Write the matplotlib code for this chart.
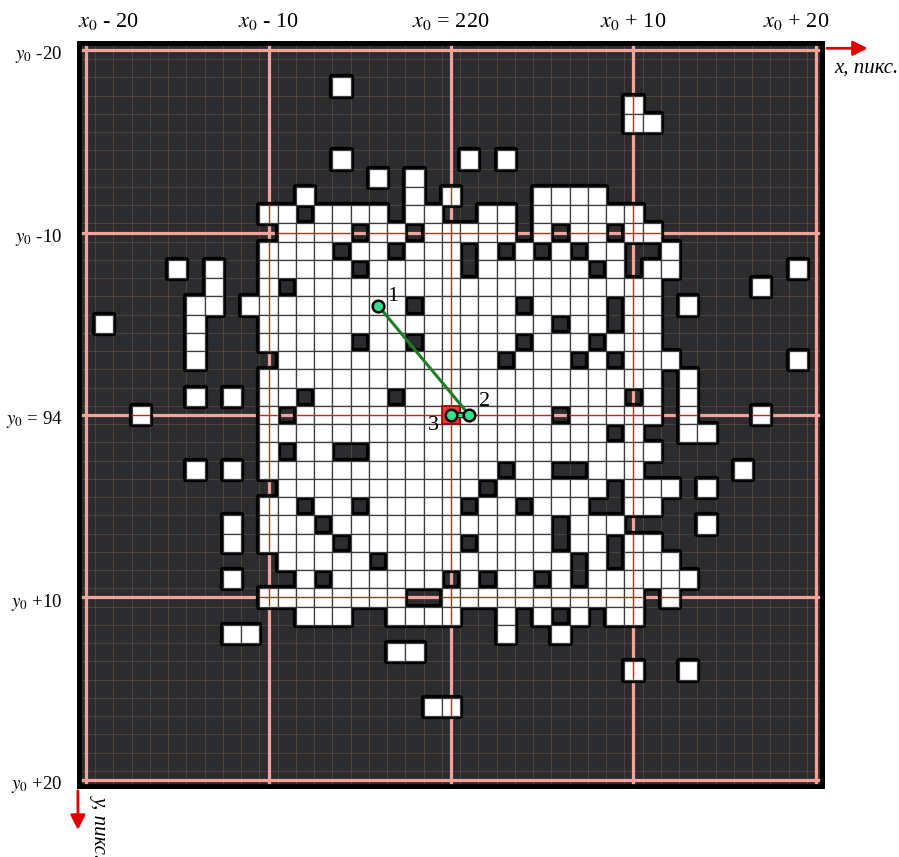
import matplotlib
matplotlib.use("Agg")
import matplotlib.pyplot as plt
import numpy as np
from matplotlib.patches import Rectangle
from matplotlib.path import Path
from matplotlib.transforms import Affine2D

# pixel offsets from (x0, y0); white pixels listed per row, rows y0-20 .. y0+20
rows = list(range(-20, 21))
white_cols = [
    [],                                                                      # -20
    [],                                                                      # -19
    [-6],                                                                    # -18
    [10],                                                                    # -17
    [10, 11],                                                                # -16
    [],                                                                      # -15
    [-6, 1, 3],                                                              # -14
    [-4, -2],                                                                # -13
    [-8, -2, 0, 5, 6, 7, 8],                                                 # -12
    [-10, -9, -7, -6, -5, -4, -2, -1, 2, 3, 5, 6, 7, 8, 9, 10],              # -11
    [-9, -8, -7, -6, -4, -3, -1, 0, 1, 2, 3, 5, 7, 8, 10, 11],               # -10
    [-10, -9, -8, -7, -5, -4, -2, -1, 0, 2, 4, 6, 8, 9, 12],                 # -9
    [-15, -13, -10, -9, -8, -7, -6, -4, -3, -2, -1, 0, 2, 3, 4, 5, 6, 7,
     9, 11, 12, 19],                                                         # -8
    [-13, -10, -8, -7, -6, -5, -4, -3, -2, -1, 0, 1, 2, 3, 4, 5, 6, 7, 8,
     9, 10, 11, 17],                                                         # -7
    [-14, -13, -11, -10, -9, -8, -7, -6, -5, -4, -3, -1, 0, 1, 2, 3, 5, 6,
     7, 8, 10, 11, 13],                                                      # -6
    [-19, -14, -10, -9, -8, -7, -6, -5, -4, -3, -2, -1, 0, 1, 2, 3, 4, 5,
     7, 8, 10, 11],                                                          # -5
    [-14, -10, -9, -8, -7, -6, -4, -3, -1, 0, 1, 2, 3, 5, 6, 7, 9, 10, 11],  # -4
    [-14, -9, -8, -7, -6, -5, -4, -3, -2, -1, 0, 1, 2, 4, 5, 6, 8, 10, 11,
     12, 19],                                                                # -3
    [-10, -9, -8, -7, -6, -5, -4, -3, -2, -1, 0, 1, 2, 3, 4, 5, 6, 7, 8, 9,
     10, 11, 13],                                                            # -2
    [-14, -12, -10, -9, -7, -6, -5, -4, -2, -1, 0, 1, 2, 3, 4, 5, 6, 7, 8,
     9, 11, 13],                                                             # -1
    [-17, -10, -8, -7, -6, -5, -4, -3, -2, -1, 0, 1, 2, 3, 4, 5, 7, 8, 9,
     10, 11, 13, 17],                                                        # 0
    [-10, -9, -8, -7, -6, -5, -4, -3, -2, -1, 0, 1, 2, 3, 4, 5, 6, 7, 8,
     10, 13, 14],                                                            # 1
    [-10, -8, -7, -4, -3, -2, -1, 0, 1, 2, 3, 4, 5, 6, 7, 8, 9, 10, 11],     # 2
    [-14, -12, -10, -9, -8, -7, -6, -5, -4, -3, -2, -1, 0, 1, 2, 4, 5, 8,
     9, 10, 16],                                                             # 3
    [-9, -8, -7, -6, -5, -4, -3, -2, -1, 0, 1, 3, 4, 5, 6, 7, 8, 10, 11,
     12, 14],                                                                # 4
    [-10, -9, -7, -6, -4, -3, -2, -1, 0, 2, 3, 5, 6, 7, 10, 11],             # 5
    [-12, -10, -9, -8, -6, -5, -4, -3, -2, -1, 0, 1, 2, 3, 4, 5, 7, 8, 9,
     14],                                                                    # 6
    [-12, -10, -9, -8, -7, -5, -4, -3, -2, -1, 0, 2, 3, 4, 5, 7, 8, 10, 11], # 7
    [-9, -8, -7, -6, -5, -3, -2, -1, 0, 1, 2, 3, 4, 5, 6, 8, 10, 11, 12],    # 8
    [-12, -8, -6, -5, -4, -3, -2, -1, 1, 3, 4, 6, 8, 9, 10, 11, 12, 13],     # 9
    [-10, -9, -8, -7, -6, -5, -4, -3, 0, 1, 2, 3, 4, 5, 6, 7, 8, 9, 10, 12], # 10
    [-8, -7, -6, -3, -2, -1, 0, 3, 5, 7, 9, 10],                             # 11
    [-12, -11, 3, 6],                                                        # 12
    [-3, -2],                                                                # 13
    [10, 13],                                                                # 14
    [],                                                                      # 15
    [-1, 0],                                                                 # 16
    [], [], [], [],                                                          # 17..20
]

major_offsets = [-20, -10, 0, 10, 20]
x_labels = [r"$x_0$ - 20", r"$x_0$ - 10", r"$x_0$ = 220", r"$x_0$ + 10", r"$x_0$ + 20"]
y_labels = [r"$y_0$ -20", r"$y_0$ -10", r"$y_0$ = 94", r"$y_0$ +10", r"$y_0$ +20"]

point_names = ["1", "2", "3"]
point_x = [-4, 1, 0]
point_y = [-6, 0, 0]
red_cell = (0, 0)

BG = "#2c2c30"
SALMON = "#f2a39a"
RED = "#d41f1f"

plt.rcParams.update({"font.family": "Liberation Serif", "mathtext.fontset": "stix",
                     "font.size": 13})

fig = plt.figure(figsize=(8.99, 8.57), dpi=100)
ax = fig.add_axes([77 / 899, 68 / 857, 748 / 899, 748 / 857])
ax.set_xlim(-20.5, 20.5)
ax.set_ylim(20.5, -20.5)
ax.set_facecolor(BG)
ax.set_xticks([])
ax.set_yticks([])
for s in ax.spines.values():
    s.set_visible(False)

# thin pixel grid on the background
for k in np.arange(-19.5, 20.0, 1.0):
    ax.axvline(k, color="#52433b", lw=0.7, zorder=1)
    ax.axhline(k, color="#52433b", lw=0.7, zorder=1)

# every-10 guide lines (under the pixels)
for v in major_offsets:
    ax.axvline(v, color=SALMON, lw=2.3, zorder=1.5)
    ax.axhline(v, color=SALMON, lw=2.3, zorder=1.5)

cells = [(c, r) for r, cols in zip(rows, white_cols) for c in cols]

for c, r in cells:
    ax.add_patch(Rectangle((c - 0.5, r - 0.5), 1, 1, fc="black", ec="black",
                           lw=4.5, joinstyle="round", zorder=2))
for c, r in cells:
    ax.add_patch(Rectangle((c - 0.5, r - 0.5), 1, 1, fc="white", ec="#3c3c3c",
                           lw=0.9, zorder=3))

# red guide lines drawn over the white pixels only
clip = Path.make_compound_path(*[
    Path.unit_rectangle().transformed(Affine2D().translate(c - 0.5, r - 0.5))
    for c, r in cells])
for v in major_offsets:
    for ln in (ax.axvline(v, color=RED, lw=1.0, zorder=4),
               ax.axhline(v, color=RED, lw=1.0, zorder=4)):
        ln.set_clip_path(clip, ax.transData)

ax.add_patch(Rectangle((red_cell[0] - 0.5, red_cell[1] - 0.5), 1, 1,
                       fc="#f03a3a", ec="#a00000", lw=1.2, zorder=5))

ax.plot(point_x[:2], point_y[:2], color="#1c7f26", lw=2.2, zorder=6)
ax.plot([point_x[2], point_x[1]], [point_y[2], point_y[1]], color="black", lw=4.5, zorder=6)
ax.plot([point_x[2], point_x[1]], [point_y[2], point_y[1]], color="#33dd88", lw=2.5, zorder=6)
ax.scatter(point_x, point_y, s=70, c="#35e08c", edgecolors="black", linewidths=1.8, zorder=7)

offsets = [(15, 9), (15, 13), (-18, -11)]
for name, px, py, off in zip(point_names, point_x, point_y, offsets):
    ax.annotate(name, (px, py), xytext=off, textcoords="offset pixels",
                ha="center", va="center", fontsize=16, zorder=8)

# dark frame
ax.add_patch(Rectangle((0, 0), 1, 1, transform=ax.transAxes, fill=False,
                       ec="black", lw=7, zorder=9, clip_on=True))

# labels
for i, (v, lab) in enumerate(zip(major_offsets, x_labels)):
    ha = "center"
    xpos = v
    if i == 0:
        ha, xpos = "left", -20.45
    elif i == len(major_offsets) - 1:
        ha, xpos = "right", 20.75
    ax.text(xpos, -21.26, lab, ha=ha, va="baseline", fontsize=16, clip_on=False)
for v, lab in zip(major_offsets, y_labels):
    ax.text(-21.3, v + 0.5, lab, ha="right", va="baseline", fontsize=13.5, clip_on=False)

ax.annotate("", xy=(23.0, -20.1), xytext=(20.45, -20.1),
            arrowprops=dict(arrowstyle="-|>", color="#e00000", lw=2, mutation_scale=22),
            annotation_clip=False)
ax.annotate("", xy=(-20.45, 22.9), xytext=(-20.45, 20.45),
            arrowprops=dict(arrowstyle="-|>", color="#e00000", lw=2, mutation_scale=22),
            annotation_clip=False)
ax.text(21.0, -18.75, "x, пикс.", style="italic", fontsize=15, ha="left", va="baseline",
        clip_on=False)
ax.text(-19.2, 20.85, "y, пикс.", style="italic", fontsize=15, rotation=270, ha="center",
        va="top", clip_on=False)

fig.savefig("out.png", dpi=100)
